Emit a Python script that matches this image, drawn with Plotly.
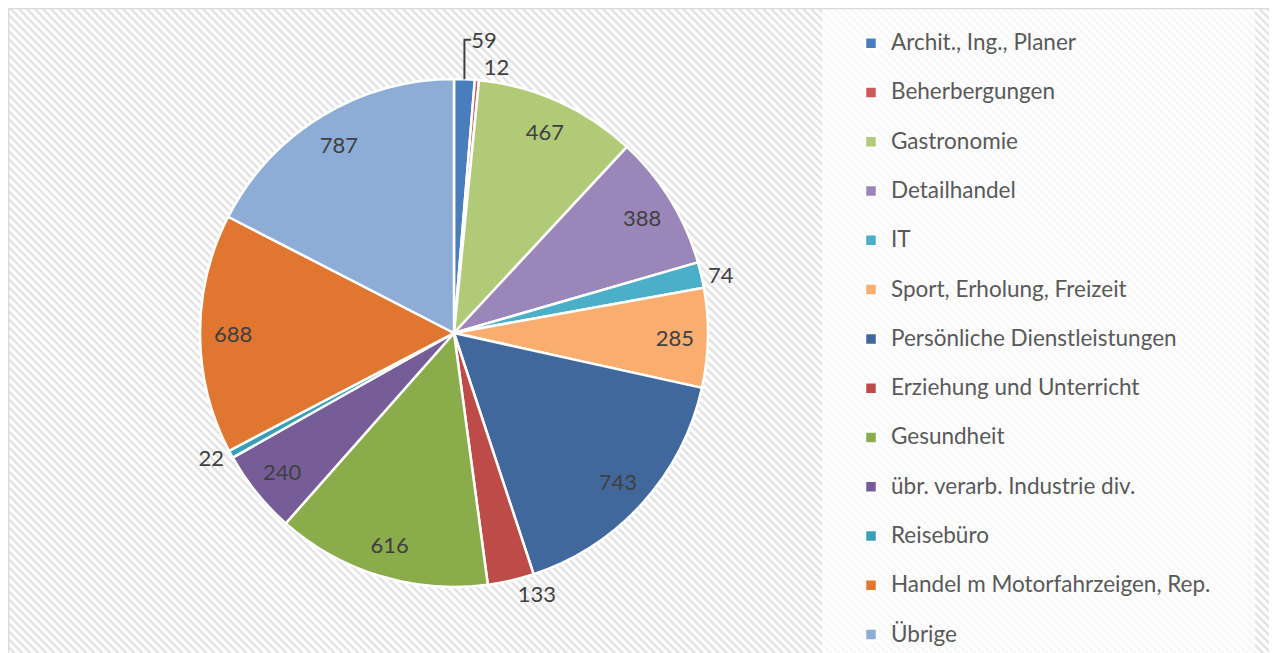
import base64
import plotly.graph_objects as go

categories = [
    "Archit., Ing., Planer",
    "Beherbergungen",
    "Gastronomie",
    "Detailhandel",
    "IT",
    "Sport, Erholung, Freizeit",
    "Persönliche Dienstleistungen",
    "Erziehung und Unterricht",
    "Gesundheit",
    "übr. verarb. Industrie div.",
    "Reisebüro",
    "Handel m Motorfahrzeigen, Rep.",
    "Übrige",
]
values = [59, 12, 467, 388, 74, 285, 743, 133, 616, 240, 22, 688, 787]

colors = [
    "#4a7dbb", "#cc5b58", "#b0ca78", "#9a86b8", "#4bafc7", "#f9ad6e",
    "#41689d", "#bd4c49", "#8aac4b", "#765d98", "#37a0b8", "#e0762f", "#8eadd6",
]
text_pos = ["outside", "outside", "inside", "inside", "outside", "inside", "inside",
            "outside", "inside", "inside", "outside", "inside", "inside"]

W, H = 1277, 653
FONT = "Lato"

svg = f'''<svg xmlns="http://www.w3.org/2000/svg" width="{W}" height="{H}" viewBox="0 0 {W} {H}">
<defs><pattern id="h" width="5.66" height="5.66" patternUnits="userSpaceOnUse" patternTransform="rotate(-45)">
<rect width="5.66" height="5.66" fill="#ffffff"/><rect width="2.4" height="5.66" fill="#e2e2e2"/></pattern></defs>
<rect x="0" y="0" width="{W + 10}" height="{H + 10}" fill="url(#h)" stroke="#d9d9d9" stroke-width="2.5"/>
<rect x="814" y="1.5" width="433" height="{H}" fill="#ffffff" fill-opacity="0.72"/>
</svg>'''
bg_uri = "data:image/svg+xml;base64," + base64.b64encode(svg.encode()).decode()

legend_labels = [f" <br><span style='font-size:22.5px'>{c}</span>" for c in categories]

cx, cy, r = 446, 325, 254
dom_x = [(cx - r) / W, (cx + r) / W]
dom_y = [(H - cy - r) / H, (H - cy + r) / H]

common = dict(
    labels=legend_labels,
    values=values,
    sort=False,
    direction="clockwise",
    rotation=0,
    domain=dict(x=dom_x, y=dom_y),
    hoverinfo="label+value",
)

fig = go.Figure()
# filled pie with slice borders
fig.add_trace(go.Pie(
    textinfo="none",
    showlegend=True,
    marker=dict(colors=colors, line=dict(color="#ffffff", width=2.5)),
    **common,
))
# transparent ring used only to carry the value labels
fig.add_trace(go.Pie(
    hole=0.74,
    textinfo="value",
    textposition=text_pos,
    insidetextorientation="horizontal",
    textfont=dict(family=FONT, size=22, color="#404040"),
    showlegend=False,
    marker=dict(colors=["rgba(0,0,0,0)"] * len(values), line=dict(width=0)),
    **common,
))

fig.update_layout(
    width=W, height=H,
    margin=dict(l=0, r=0, t=0, b=0, autoexpand=False),
    paper_bgcolor="#ffffff",
    plot_bgcolor="rgba(0,0,0,0)",
    images=[dict(source=bg_uri, xref="paper", yref="paper", x=0, y=1,
                 sizex=1, sizey=1, xanchor="left", yanchor="top",
                 sizing="stretch", layer="below")],
    legend=dict(
        x=843 / W, y=1 + 6 / H, xanchor="left", yanchor="top",
        font=dict(family=FONT, size=17.8, color="#595959"),
        valign="bottom", bgcolor="rgba(0,0,0,0)", traceorder="normal",
        maxheight=2000,
    ),
    showlegend=True,
)

fig.write_html("out.html")
